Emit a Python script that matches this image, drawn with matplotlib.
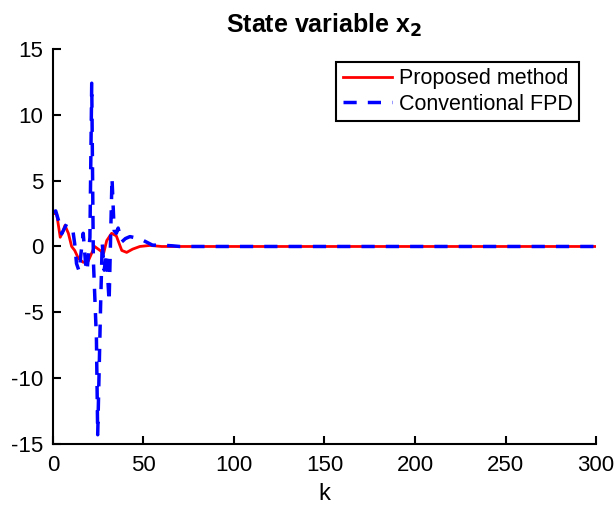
import numpy as np
import matplotlib
matplotlib.use("Agg")
import matplotlib.pyplot as plt

plt.rcParams["font.family"] = ["Liberation Sans", "DejaVu Sans"]
plt.rcParams["axes.unicode_minus"] = False

# Proposed method (red)
k_prop = [0, 2, 4, 5.7, 6.6, 8.5, 10.3, 12, 14, 16.7, 19.5, 21.4, 23, 26, 28,
          29.7, 32.4, 35, 38, 40.7, 44, 48, 53.6, 60, 300]
x2_prop = [2.5, 2.5, 0.7, 1.2, 1.6, 1.0, 0.0, -0.3, -0.9, -1.2, -1.1, -0.5, 0.0,
           -0.3, -0.5, 0.45, 1.0, 0.8, -0.3, -0.45, -0.2, 0.0, 0.08, 0.0, 0.0]

# Conventional FPD (blue dashed)
k_conv = [0, 1.5, 3, 4.8, 7.5, 9, 11, 12, 13, 14.5, 15.5, 16.7, 18, 18.8, 20.4,
          21.4, 22.3, 24, 24.7, 26.3, 27.2, 28.3, 29.5, 31, 32.6, 33.8, 35, 36,
          38, 40, 42.5, 46, 50, 55, 60, 66, 70, 300]
x2_conv = [2.6, 2.7, 2.0, 0.96, 1.7, 1.5, 1.2, 0.2, -1.3, -1.9, -0.5, 1.0, -1.3,
           -1.9, 0.7, 12.4, -1.0, -7.0, -14.3, -4.5, 0.3, -1.8, -0.5, -4.2, 5.2,
           1.2, 1.0, 1.4, 0.35, 0.6, 0.75, 0.65, 0.45, 0.1, 0.1, 0.05, 0.0, 0.0]

fig = plt.figure(figsize=(6.14, 5.2), dpi=100)
ax = fig.add_axes([0.0863, 0.1462, 0.8844, 0.7596])

ax.plot(k_prop, x2_prop, color="red", lw=2.0, label="Proposed method")
ax.plot(k_conv, x2_conv, color="blue", lw=2.5, dashes=(3.8, 3.2),
        label="Conventional FPD")

ax.set_xlim(0, 300)
ax.set_ylim(-15, 15)
ax.set_xticks(np.arange(0, 301, 50))
ax.set_yticks(np.arange(-15, 16, 5))
ax.tick_params(direction="in", labelsize=16, width=1.5, length=6)
ax.tick_params(axis="x", pad=8)
ax.tick_params(axis="y", pad=7)
for s in ["top", "right"]:
    ax.spines[s].set_visible(False)
for s in ["left", "bottom"]:
    ax.spines[s].set_linewidth(1.5)

ax.set_xlabel("k", fontsize=17, labelpad=5)
ax.set_title("State variable x$_\\mathbf{2}$", fontsize=18, fontweight="bold", pad=12)

leg = ax.legend(loc="upper right", bbox_to_anchor=(0.969, 0.967), borderaxespad=0,
                fontsize=15.5, handlelength=2.3, handletextpad=0.3,
                fancybox=False, framealpha=1, edgecolor="black",
                borderpad=0.3, labelspacing=0.2)
leg.get_frame().set_linewidth(1.5)

fig.savefig("out.png", dpi=100)
